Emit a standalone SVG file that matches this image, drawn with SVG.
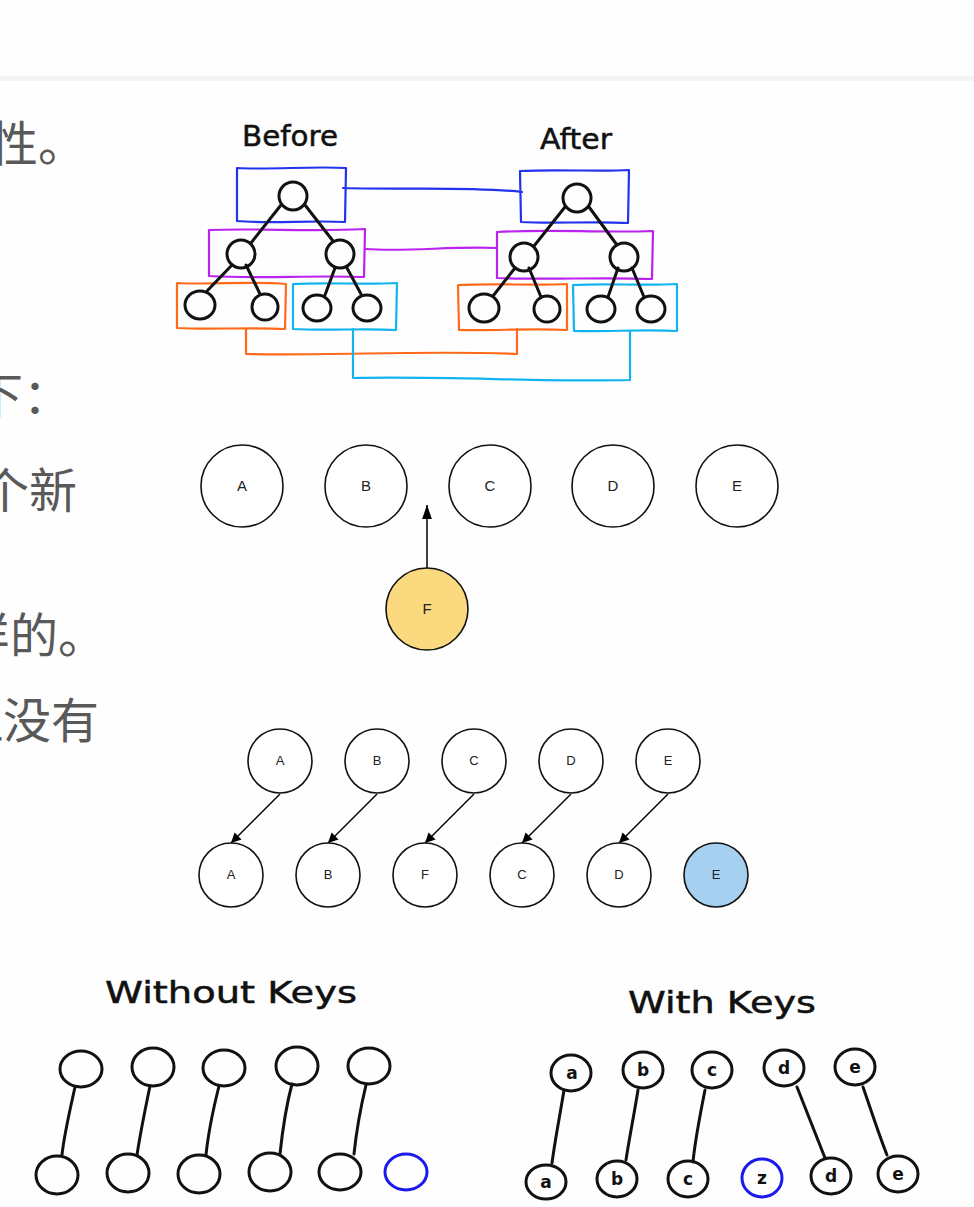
<svg xmlns="http://www.w3.org/2000/svg" width="974" height="1207" viewBox="0 0 974 1207">
<style>
.cjk{font-family:"Noto Sans CJK SC","Noto Sans",sans-serif;font-size:48px;fill:#595959}
.hand{font-family:"DejaVu Sans","Liberation Sans",sans-serif;fill:#111;stroke:#111;stroke-width:0.5}
.hn{fill:none;stroke:#111;stroke-width:3;stroke-linecap:round;stroke-linejoin:round}
.blue{stroke:#1a1aee}
.hb{fill:none;stroke-width:2.2;stroke-linecap:round;stroke-linejoin:round}
.fc{fill:#fff;stroke:#111;stroke-width:1.6}
.fl{font-family:"Liberation Sans",Arial,sans-serif;fill:#222;text-anchor:middle}
.fa{fill:none;stroke:#000;stroke-width:1.5}
.hl{font-family:"DejaVu Sans","Liberation Sans",sans-serif;font-size:17px;fill:#111;text-anchor:middle;font-weight:bold}
</style>
<defs>
<marker id="ah" viewBox="0 0 10 10" refX="10" refY="5" markerWidth="10" markerHeight="10" markerUnits="userSpaceOnUse" orient="auto">
<path d="M0,0 L10,5 L0,10 z" fill="#000"/>
</marker>
<marker id="ah2" viewBox="0 0 10 10" refX="10" refY="5" markerWidth="14" markerHeight="14" markerUnits="userSpaceOnUse" orient="auto">
<path d="M0,1.5 L10,5 L0,8.5 z" fill="#000"/>
</marker>
</defs>
<rect width="974" height="1207" fill="#fefefe"/>
<rect x="0" y="0" width="974" height="76" fill="#fdfdfd"/>
<rect x="0" y="76" width="974" height="5" fill="#f4f4f4"/>

<g id="page-text">
<text class="cjk" x="-10" y="161">性。</text>
<text class="cjk" x="-25" y="413">下：</text>
<text class="cjk" x="-19" y="508">个新</text>
<text class="cjk" x="-38" y="653">样的。</text>
<text class="cjk" x="-45" y="738">但没有</text>
</g>

<!-- Before / After tree diagram -->
<g id="tree-connectors">
<path class="hb" stroke="#2233ee" d="M343,188 C400,190 470,186 522,192"/>
<path class="hb" stroke="#bb22ee" d="M365,249 C410,252 450,246 497,248"/>
<path class="hb" stroke="#ff6a1a" d="M246,329 L246,354 C330,356 430,350 517,354 L517,329"/>
<path class="hb" stroke="#11b4ee" d="M353,329 L353,378 C450,376 540,382 630,380 L630,331"/>
</g>
<g id="before">
<text class="hand" x="290" y="146" font-size="28" text-anchor="middle" textLength="96" lengthAdjust="spacingAndGlyphs">Before</text>
<path class="hb" stroke="#2233ee" d="M237,168 C270,170 310,166 346,168 L345,222 C310,220 270,224 237,221 Z"/>
<path class="hb" stroke="#bb22ee" d="M209,230 C260,228 310,232 365,229 L364,277 C310,275 260,279 209,276 Z"/>
<path class="hb" stroke="#ff6a1a" d="M177,283 C210,285 250,281 286,284 L285,329 C250,327 210,330 177,328 Z"/>
<path class="hb" stroke="#11b4ee" d="M293,284 C330,282 360,285 397,283 L396,330 C360,328 330,331 293,329 Z"/>
<path class="hn" d="M281,205 L251,243 M305,205 L333,241 M232,265 L207,291 M246,265 L260,294 M335,268 L325,295 M347,268 L361,294"/>
<circle class="hn" cx="293" cy="196" r="14"/>
<circle class="hn" cx="241" cy="254" r="14"/>
<circle class="hn" cx="340" cy="254" r="14"/>
<ellipse class="hn" cx="200" cy="305" rx="15" ry="14"/>
<ellipse class="hn" cx="265" cy="307" rx="13" ry="13"/>
<ellipse class="hn" cx="317" cy="308" rx="14" ry="13"/>
<ellipse class="hn" cx="367" cy="308" rx="14" ry="13"/>
</g>
<g id="after">
<text class="hand" x="576" y="149" font-size="28" text-anchor="middle" textLength="72" lengthAdjust="spacingAndGlyphs">After</text>
<path class="hb" stroke="#2233ee" d="M520,171 C560,169 600,172 629,170 L628,223 C590,221 555,224 521,222 Z"/>
<path class="hb" stroke="#bb22ee" d="M497,232 C550,229 600,233 653,231 L652,279 C600,277 550,280 497,278 Z"/>
<path class="hb" stroke="#ff6a1a" d="M458,285 C500,283 530,286 567,284 L567,330 C530,328 495,331 459,330 Z"/>
<path class="hb" stroke="#11b4ee" d="M573,285 C610,283 640,286 677,284 L677,331 C640,329 610,332 574,331 Z"/>
<path class="hn" d="M565,207 L534,246 M589,207 L617,245 M515,268 L493,296 M529,268 L541,297 M618,268 L608,297 M632,268 L644,297"/>
<circle class="hn" cx="577" cy="198" r="14"/>
<circle class="hn" cx="524" cy="257" r="14"/>
<circle class="hn" cx="624" cy="257" r="14"/>
<ellipse class="hn" cx="484" cy="308" rx="15" ry="14"/>
<ellipse class="hn" cx="547" cy="309" rx="13" ry="13"/>
<ellipse class="hn" cx="601" cy="309" rx="14" ry="13"/>
<ellipse class="hn" cx="651" cy="309" rx="14" ry="13"/>
</g>

<!-- Insert F diagram -->
<g id="insert-connectors">
<line class="fa" x1="427" y1="568" x2="427" y2="505" marker-end="url(#ah2)"/>
</g>
<g id="ins-A"><circle class="fc" cx="242" cy="486" r="41"/><text class="fl" x="242" y="491" font-size="15">A</text></g>
<g id="ins-B"><circle class="fc" cx="366" cy="486" r="41"/><text class="fl" x="366" y="491" font-size="15">B</text></g>
<g id="ins-C"><circle class="fc" cx="490" cy="486" r="41"/><text class="fl" x="490" y="491" font-size="15">C</text></g>
<g id="ins-D"><circle class="fc" cx="613" cy="486" r="41"/><text class="fl" x="613" y="491" font-size="15">D</text></g>
<g id="ins-E"><circle class="fc" cx="737" cy="486" r="41"/><text class="fl" x="737" y="491" font-size="15">E</text></g>
<g id="ins-F"><circle class="fc" cx="427" cy="609" r="41" style="fill:#fbd97e"/><text class="fl" x="427" y="614" font-size="15">F</text></g>

<!-- Shift diagram -->
<g id="shift-connectors">
<line class="fa" x1="280" y1="794" x2="231" y2="843" marker-end="url(#ah)"/>
<line class="fa" x1="377" y1="794" x2="328" y2="843" marker-end="url(#ah)"/>
<line class="fa" x1="474" y1="794" x2="425" y2="843" marker-end="url(#ah)"/>
<line class="fa" x1="571" y1="794" x2="522" y2="843" marker-end="url(#ah)"/>
<line class="fa" x1="668" y1="794" x2="619" y2="843" marker-end="url(#ah)"/>
</g>
<g id="old-A"><circle class="fc" cx="280" cy="761" r="32"/><text class="fl" x="280" y="765" font-size="13">A</text></g>
<g id="old-B"><circle class="fc" cx="377" cy="761" r="32"/><text class="fl" x="377" y="765" font-size="13">B</text></g>
<g id="old-C"><circle class="fc" cx="474" cy="761" r="32"/><text class="fl" x="474" y="765" font-size="13">C</text></g>
<g id="old-D"><circle class="fc" cx="571" cy="761" r="32"/><text class="fl" x="571" y="765" font-size="13">D</text></g>
<g id="old-E"><circle class="fc" cx="668" cy="761" r="32"/><text class="fl" x="668" y="765" font-size="13">E</text></g>
<g id="new-A"><circle class="fc" cx="231" cy="875" r="32"/><text class="fl" x="231" y="879" font-size="13">A</text></g>
<g id="new-B"><circle class="fc" cx="328" cy="875" r="32"/><text class="fl" x="328" y="879" font-size="13">B</text></g>
<g id="new-F"><circle class="fc" cx="425" cy="875" r="32"/><text class="fl" x="425" y="879" font-size="13">F</text></g>
<g id="new-C"><circle class="fc" cx="522" cy="875" r="32"/><text class="fl" x="522" y="879" font-size="13">C</text></g>
<g id="new-D"><circle class="fc" cx="619" cy="875" r="32"/><text class="fl" x="619" y="879" font-size="13">D</text></g>
<g id="new-E"><circle class="fc" cx="716" cy="875" r="32" style="fill:#a5d0ef"/><text class="fl" x="716" y="879" font-size="13">E</text></g>

<!-- Without Keys -->
<g id="without-keys">
<text class="hand" x="231" y="1003" font-size="30" text-anchor="middle" textLength="252" lengthAdjust="spacingAndGlyphs">Without Keys</text>
<g id="wk-connectors">
<path class="hn" d="M75,1087 C70,1110 64,1135 62,1155"/>
<path class="hn" d="M150,1086 C145,1110 140,1135 137,1155"/>
<path class="hn" d="M219,1086 C213,1110 208,1135 206,1155"/>
<path class="hn" d="M292,1084 C285,1110 282,1135 280,1154"/>
<path class="hn" d="M366,1085 C360,1110 356,1135 354,1154"/>
</g>
<ellipse class="hn" cx="81" cy="1069" rx="21" ry="18"/>
<ellipse class="hn" cx="153" cy="1067" rx="21" ry="19"/>
<ellipse class="hn" cx="224" cy="1068" rx="21" ry="18"/>
<ellipse class="hn" cx="297" cy="1066" rx="21" ry="19"/>
<ellipse class="hn" cx="369" cy="1066" rx="21" ry="18"/>
<ellipse class="hn" cx="57" cy="1175" rx="21" ry="19"/>
<ellipse class="hn" cx="128" cy="1173" rx="21" ry="19"/>
<ellipse class="hn" cx="199" cy="1174" rx="21" ry="19"/>
<ellipse class="hn" cx="270" cy="1172" rx="21" ry="19"/>
<ellipse class="hn" cx="340" cy="1172" rx="21" ry="18"/>
<ellipse class="hn blue" cx="406" cy="1172" rx="21" ry="18"/>
</g>

<!-- With Keys -->
<g id="with-keys">
<text class="hand" x="722" y="1013" font-size="30" text-anchor="middle" textLength="188" lengthAdjust="spacingAndGlyphs">With Keys</text>
<g id="k-connectors">
<path class="hn" d="M564,1090 C560,1115 555,1140 552,1163"/>
<path class="hn" d="M638,1090 C634,1115 629,1140 626,1160"/>
<path class="hn" d="M705,1090 C700,1115 695,1140 693,1162"/>
<path class="hn" d="M797,1087 C806,1110 816,1135 825,1158"/>
<path class="hn" d="M863,1087 C871,1110 879,1135 887,1155"/>
</g>
<g id="k-a"><ellipse class="hn" cx="571" cy="1073" rx="20" ry="18"/><text class="hl" x="572" y="1079">a</text></g>
<g id="k-b"><ellipse class="hn" cx="643" cy="1070" rx="20" ry="18"/><text class="hl" x="643" y="1076">b</text></g>
<g id="k-c"><ellipse class="hn" cx="712" cy="1070" rx="20" ry="18"/><text class="hl" x="712" y="1076">c</text></g>
<g id="k-d"><ellipse class="hn" cx="784" cy="1068" rx="20" ry="18"/><text class="hl" x="784" y="1074">d</text></g>
<g id="k-e"><ellipse class="hn" cx="855" cy="1067" rx="20" ry="18"/><text class="hl" x="855" y="1073">e</text></g>
<g id="kb-a"><ellipse class="hn" cx="546" cy="1182" rx="20" ry="17"/><text class="hl" x="546" y="1188">a</text></g>
<g id="kb-b"><ellipse class="hn" cx="617" cy="1179" rx="20" ry="18"/><text class="hl" x="617" y="1185">b</text></g>
<g id="kb-c"><ellipse class="hn" cx="688" cy="1179" rx="20" ry="18"/><text class="hl" x="688" y="1185">c</text></g>
<g id="kb-z"><ellipse class="hn blue" cx="762" cy="1178" rx="20" ry="19"/><text class="hl" x="762" y="1184">z</text></g>
<g id="kb-d"><ellipse class="hn" cx="831" cy="1176" rx="20" ry="18"/><text class="hl" x="831" y="1182">d</text></g>
<g id="kb-e"><ellipse class="hn" cx="898" cy="1174" rx="20" ry="18"/><text class="hl" x="898" y="1180">e</text></g>
</g>
</svg>
